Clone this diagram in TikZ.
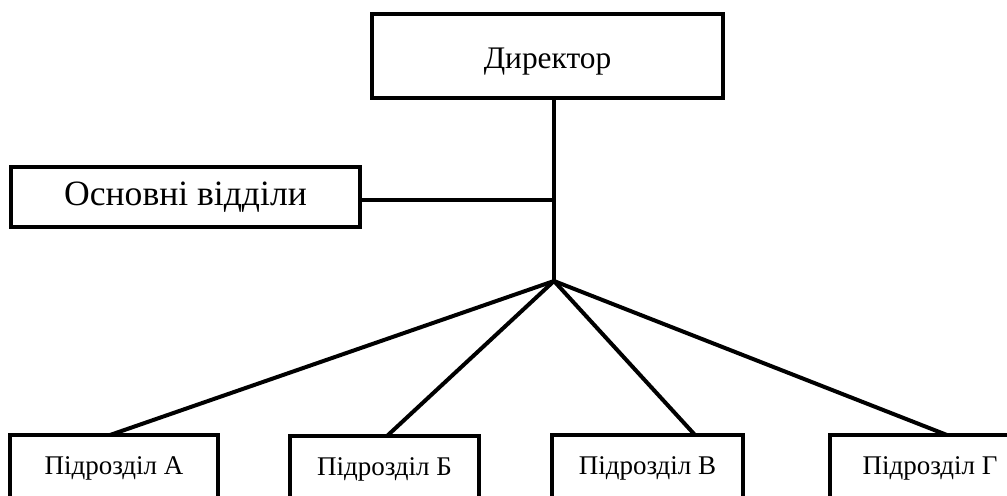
\documentclass[tikz,border=0pt]{standalone}
\usepackage{fontspec}
\setmainfont{Liberation Serif}
\begin{document}
\begin{tikzpicture}[x=0.5pt,y=-0.5pt,
  box/.style={draw=black, line width=2.2pt, fill=white, inner sep=0pt, outer sep=0pt},
  sub/.style={box, minimum height=33pt, font=\fontsize{13.5}{16}\selectfont},
  conn/.style={draw=black, line width=2pt}]
\useasboundingbox (0,0) rectangle (1007,495);
\clip (0,0) rectangle (1007,495);
\node[box, minimum width=175.5pt, minimum height=42pt, text height=14pt, text depth=2pt, font=\fontsize{15.7}{18}\selectfont] (dir) at (547.5,56) {Директор};
\node[box, minimum width=174.5pt, minimum height=30pt, font=\fontsize{17.8}{20}\selectfont] (osn) at (185.5,197) {Основні відділи};
\coordinate (j) at (554,281);
\coordinate (m) at (554,200);
\node[sub, minimum width=104pt] (a) at (114,468) {Підрозділ А};
\node[sub, minimum width=94.5pt] (b) at (384.5,469) {Підрозділ Б};
\node[sub, minimum width=95.5pt] (c) at (647.5,468) {Підрозділ В};
\node[sub, minimum width=100pt] (d) at (930,468) {Підрозділ Г};
\draw[conn] (dir.south -| j) -- (j);
\draw[conn] (osn.east |- m) -- (m);
\draw[conn] (j) -- (a.north -| 110,0);
\draw[conn] (j) -- (b.north -| 387,0);
\draw[conn] (j) -- (c.north -| 695,0);
\draw[conn] (j) -- (d.north -| 947,0);
\end{tikzpicture}
\end{document}
